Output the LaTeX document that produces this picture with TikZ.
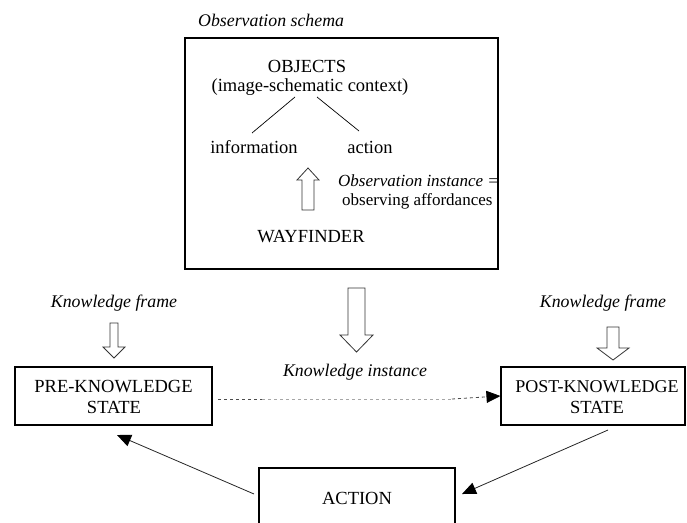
\documentclass[tikz,border=0pt]{standalone}
\usepackage{fontspec}
\setmainfont{Liberation Serif}
\usetikzlibrary{arrows.meta}
\begin{document}
\begin{tikzpicture}[x=1pt,y=-1pt,
  txt/.style={font=\fontsize{18.5}{22}\selectfont, inner sep=0pt, align=center},
  itx/.style={font=\fontsize{17.8}{21}\selectfont\itshape, inner sep=0pt},
  boxline/.style={draw=black, line width=1.1pt},
  hollow/.style={draw=black!80, line width=0.8pt, fill=white},
  tipshape/.style={-{Triangle[length=14pt,width=12pt,fill=black,color=black]}},
  tri/.style={tipshape, line width=0.8pt, draw=black!85},
]
\useasboundingbox (0,0) rectangle (687,522);

% observation schema frame
\node[itx, anchor=west] (obslabel) at (198,20) {Observation schema};
\draw[boxline] (185,38) rectangle (498,269);
\node[txt] (objects) at (307,66) {OBJECTS};
\node[txt] (context) at (310,87) {(image-schematic context)};
\node[txt] (info) at (254,147) {information};
\node[txt] (act) at (370,147) {action};
\coordinate (cl) at (295,97);
\coordinate (cr) at (317,97);
\coordinate (il) at (252,133);
\coordinate (ar) at (359,131);
\draw[line width=0.7pt] (cl) -- (il);
\draw[line width=0.7pt] (cr) -- (ar);
\node[txt] (way) at (311,237) {WAYFINDER};
\node[itx, font=\fontsize{17}{20}\selectfont\itshape, anchor=west] (oi) at (338,181) {Observation instance =};
\node[txt, font=\fontsize{17}{20}\selectfont, anchor=west] (oa) at (342,201) {observing affordances};
% hollow up arrow
\draw[hollow] (302,210) -- (302,180) -- (297,180) -- (308,168) -- (319,180) -- (314,180) -- (314,210) -- cycle;

% big hollow arrow out of the frame
\draw[hollow] (348,288) -- (365,288) -- (365,335) -- (373,335) -- (356.5,352) -- (340,335) -- (348,335) -- cycle;

% knowledge frames
\node[itx] (kfl) at (114,303) {Knowledge frame};
\node[itx] (kfr) at (603,303) {Knowledge frame};
\draw[hollow] (110,323) -- (118,323) -- (118,347) -- (125,347) -- (114,358) -- (103,347) -- (110,347) -- cycle;
\draw[hollow] (607,327) -- (619,327) -- (619,348) -- (629,348) -- (613,360) -- (597,348) -- (607,348) -- cycle;

% state boxes
\node[boxline, minimum width=197pt, minimum height=58pt, inner sep=0pt] (pre) at (113.5,396) {};
\node[txt] at (113.5,387) {PRE-KNOWLEDGE};
\node[txt] at (114,407) {STATE};
\node[boxline, minimum width=184pt, minimum height=58pt, inner sep=0pt] (post) at (593,396) {};
\node[txt, font=\fontsize{18}{22}\selectfont] at (597,387) {POST-KNOWLEDGE};
\node[txt] at (597,407) {STATE};
\node[boxline, minimum width=196pt, minimum height=70pt, inner sep=0pt] (action) at (357,503) {};
\node[txt] at (357,498) {ACTION};

% knowledge instance
\node[itx] (ki) at (355,372) {Knowledge instance};
\coordinate (d1) at (218,399);
\coordinate (d2) at (262,399);
\coordinate (d3) at (452,399);
\draw[dashed, black!70, line width=0.8pt] (d1) -- (d2);
\draw[dashed, black!35, line width=0.8pt] (d2) -- (d3);
\draw[dashed, black!70, line width=0.8pt, tipshape] (d3) -- (post.west);

% cycle arrows
\coordinate (a1) at (254,494);
\coordinate (a2) at (117,435);
\coordinate (p1) at (608,430);
\coordinate (p2) at (462,494);
\draw[tri] (a1) -- (a2);
\draw[tri] (p1) -- (p2);
\end{tikzpicture}
\end{document}
